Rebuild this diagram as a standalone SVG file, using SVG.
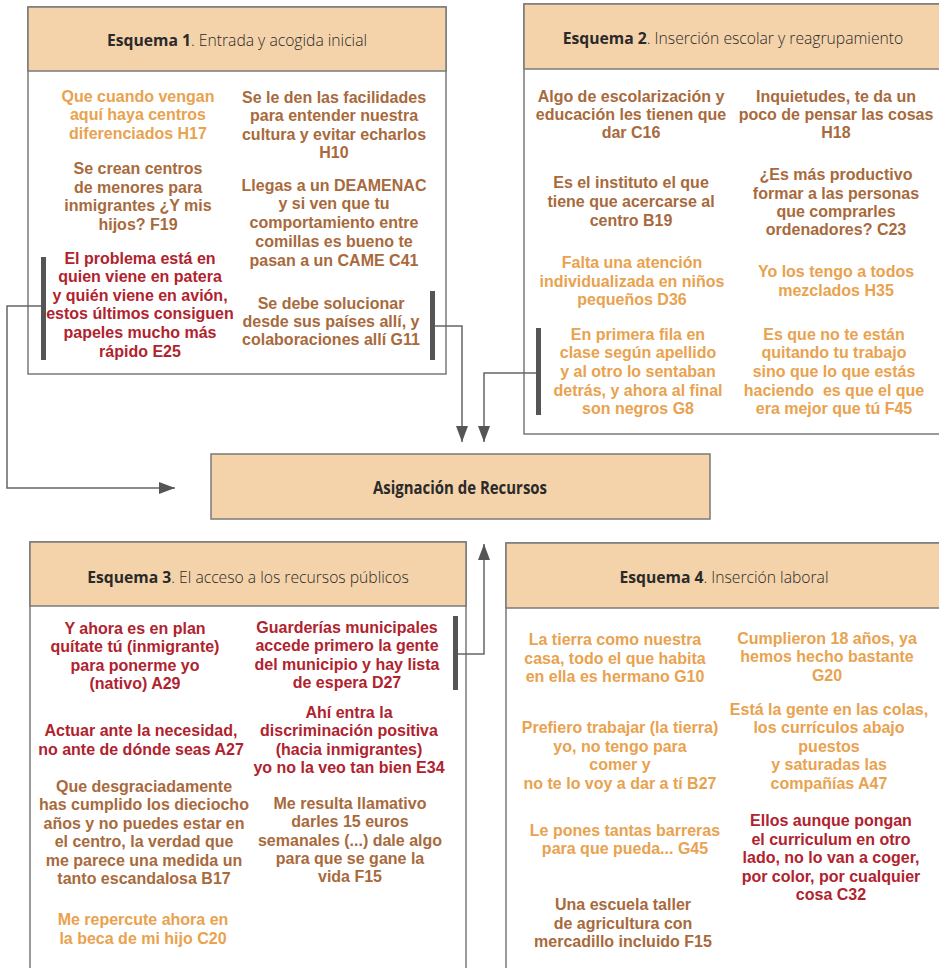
<svg xmlns="http://www.w3.org/2000/svg" width="939" height="968" viewBox="0 0 939 968">
  <style>
    .panel { fill: #ffffff; stroke: #7a7a7a; stroke-width: 1.5; }
    .head { fill: #f5d3aa; stroke: #7a7a7a; stroke-width: 1.5; }
    .ttl { font-family: "Open Sans", "Liberation Sans", sans-serif; font-size: 15.7px; fill: #2a2a2a; text-anchor: middle; font-weight: 300; }
    .ttl .k { font-weight: 700; }
    .q { font-family: "Liberation Sans", Arial, sans-serif; font-size: 16px; font-weight: 700; text-anchor: middle; }
    .o { fill: #e9a24f; }
    .b { fill: #a86a3c; }
    .r { fill: #b0232e; }
    .bar { fill: #555555; }
    .wire { fill: none; stroke: #666666; stroke-width: 1.5; }
    .center { font-family: "Open Sans", "Liberation Sans", sans-serif; font-size: 17px; font-weight: 700; fill: #2a2a2a; text-anchor: middle; }
  </style>
  <defs>
    <marker id="tip" viewBox="0 0 16 12" refX="16" refY="6" markerWidth="16" markerHeight="12" markerUnits="userSpaceOnUse" orient="auto">
      <path d="M0,0 L16,6 L0,12 Z" fill="#555555"/>
    </marker>
  </defs>

  <!-- Esquema 1 -->
  <g id="esquema1">
    <rect class="panel" x="28" y="7" width="418" height="367"/>
    <rect class="head" x="28" y="7" width="418" height="64"/>
    <text class="ttl" x="237" y="46"><tspan class="k">Esquema 1</tspan>. Entrada y acogida inicial</text>
    <text class="q o"><tspan x="138" y="102">Que cuando vengan</tspan><tspan x="138" y="120">aquí haya centros</tspan><tspan x="138" y="139">diferenciados H17</tspan></text>
    <text class="q b"><tspan x="334" y="103">Se le den las facilidades</tspan><tspan x="334" y="121">para entender nuestra</tspan><tspan x="334" y="140">cultura y evitar echarlos</tspan><tspan x="334" y="158">H10</tspan></text>
    <text class="q b"><tspan x="138" y="174">Se crean centros</tspan><tspan x="138" y="193">de menores para</tspan><tspan x="138" y="211">inmigrantes ¿Y mis</tspan><tspan x="138" y="230">hijos? F19</tspan></text>
    <text class="q b"><tspan x="334" y="191">Llegas a un DEAMENAC</tspan><tspan x="334" y="209">y si ven que tu</tspan><tspan x="334" y="228">comportamiento entre</tspan><tspan x="334" y="247">comillas es bueno te</tspan><tspan x="334" y="266">pasan a un CAME C41</tspan></text>
    <text class="q r"><tspan x="140" y="264">El problema está en</tspan><tspan x="140" y="282">quien viene en patera</tspan><tspan x="140" y="301">y quién viene en avión,</tspan><tspan x="140" y="319">estos últimos consiguen</tspan><tspan x="140" y="338">papeles mucho más</tspan><tspan x="140" y="357">rápido E25</tspan></text>
    <text class="q b"><tspan x="331" y="309">Se debe solucionar</tspan><tspan x="331" y="327">desde sus países allí, y</tspan><tspan x="331" y="345">colaboraciones allí G11</tspan></text>
    <rect class="bar" x="41" y="257" width="5" height="103"/>
    <rect class="bar" x="430" y="291" width="5" height="69"/>
  </g>

  <!-- Esquema 2 -->
  <g id="esquema2">
    <rect class="panel" x="524" y="4" width="430" height="430"/>
    <rect class="head" x="524" y="4" width="430" height="65"/>
    <text class="ttl" x="733" y="44"><tspan class="k">Esquema 2</tspan>. Inserción escolar y reagrupamiento</text>
    <text class="q b"><tspan x="631" y="102">Algo de escolarización y</tspan><tspan x="631" y="120">educación les tienen que</tspan><tspan x="631" y="138">dar C16</tspan></text>
    <text class="q b"><tspan x="836" y="102">Inquietudes, te da un</tspan><tspan x="836" y="120">poco de pensar las cosas</tspan><tspan x="836" y="138">H18</tspan></text>
    <text class="q b"><tspan x="631" y="188">Es el instituto el que</tspan><tspan x="631" y="207">tiene que acercarse al</tspan><tspan x="631" y="226">centro B19</tspan></text>
    <text class="q b"><tspan x="836" y="180">¿Es más productivo</tspan><tspan x="836" y="199">formar a las personas</tspan><tspan x="836" y="217">que comprarles</tspan><tspan x="836" y="235">ordenadores? C23</tspan></text>
    <text class="q o"><tspan x="632" y="268">Falta una atención</tspan><tspan x="632" y="287">individualizada en niños</tspan><tspan x="632" y="305">pequeños D36</tspan></text>
    <text class="q o"><tspan x="836" y="277">Yo los tengo a todos</tspan><tspan x="836" y="296">mezclados H35</tspan></text>
    <text class="q o"><tspan x="638" y="340">En primera fila en</tspan><tspan x="638" y="358">clase según apellido</tspan><tspan x="638" y="377">y al otro lo sentaban</tspan><tspan x="638" y="396">detrás, y ahora al final</tspan><tspan x="638" y="414">son negros G8</tspan></text>
    <text class="q o"><tspan x="834" y="340">Es que no te están</tspan><tspan x="834" y="358">quitando tu trabajo</tspan><tspan x="834" y="377">sino que lo que estás</tspan><tspan x="834" y="396" xml:space="preserve">haciendo  es que el que</tspan><tspan x="834" y="414">era mejor que tú F45</tspan></text>
    <rect class="bar" x="536" y="328" width="5" height="87"/>
  </g>

  <!-- Asignación de Recursos -->
  <g id="asignacion">
    <rect class="head" x="211" y="454" width="499" height="65"/>
    <text class="center" x="460" y="494" textLength="174" lengthAdjust="spacingAndGlyphs">Asignación de Recursos</text>
  </g>

  <!-- Esquema 3 -->
  <g id="esquema3">
    <rect class="panel" x="30" y="542" width="436" height="440"/>
    <rect class="head" x="30" y="542" width="436" height="64"/>
    <text class="ttl" x="248" y="583"><tspan class="k">Esquema 3</tspan>. El acceso a los recursos públicos</text>
    <text class="q r"><tspan x="135" y="634">Y ahora es en plan</tspan><tspan x="135" y="652">quítate tú (inmigrante)</tspan><tspan x="135" y="671">para ponerme yo</tspan><tspan x="135" y="689">(nativo) A29</tspan></text>
    <text class="q r"><tspan x="347" y="633">Guarderías municipales</tspan><tspan x="347" y="651">accede primero la gente</tspan><tspan x="347" y="670">del municipio y hay lista</tspan><tspan x="347" y="688">de espera D27</tspan></text>
    <text class="q r"><tspan x="141" y="736">Actuar ante la necesidad,</tspan><tspan x="141" y="755">no ante de dónde seas A27</tspan></text>
    <text class="q r"><tspan x="349" y="718">Ahí entra la</tspan><tspan x="349" y="736">discriminación positiva</tspan><tspan x="349" y="755">(hacia inmigrantes)</tspan><tspan x="349" y="773">yo no la veo tan bien E34</tspan></text>
    <text class="q b"><tspan x="144" y="792">Que desgraciadamente</tspan><tspan x="144" y="810">has cumplido los dieciocho</tspan><tspan x="144" y="829">años y no puedes estar en</tspan><tspan x="144" y="847">el centro, la verdad que</tspan><tspan x="144" y="866">me parece una medida un</tspan><tspan x="144" y="884">tanto escandalosa B17</tspan></text>
    <text class="q b"><tspan x="350" y="809">Me resulta llamativo</tspan><tspan x="350" y="827">darles 15 euros</tspan><tspan x="350" y="846">semanales (...) dale algo</tspan><tspan x="350" y="864">para que se gane la</tspan><tspan x="350" y="882">vida F15</tspan></text>
    <text class="q o"><tspan x="143" y="925">Me repercute ahora en</tspan><tspan x="143" y="944">la beca de mi hijo C20</tspan></text>
    <rect class="bar" x="453" y="616" width="5" height="74"/>
  </g>

  <!-- Esquema 4 -->
  <g id="esquema4">
    <rect class="panel" x="506" y="543" width="450" height="440"/>
    <rect class="head" x="506" y="543" width="450" height="65"/>
    <text class="ttl" x="724" y="583"><tspan class="k">Esquema 4</tspan>. Inserción laboral</text>
    <text class="q o"><tspan x="615" y="645">La tierra como nuestra</tspan><tspan x="615" y="664">casa, todo el que habita</tspan><tspan x="615" y="682">en ella es hermano G10</tspan></text>
    <text class="q o"><tspan x="827" y="644">Cumplieron 18 años, ya</tspan><tspan x="827" y="662">hemos hecho bastante</tspan><tspan x="827" y="681">G20</tspan></text>
    <text class="q o"><tspan x="620" y="733">Prefiero trabajar (la tierra)</tspan><tspan x="620" y="752">yo, no tengo para</tspan><tspan x="620" y="770">comer y</tspan><tspan x="620" y="789">no te lo voy a dar a tí B27</tspan></text>
    <text class="q o"><tspan x="829" y="715">Está la gente en las colas,</tspan><tspan x="829" y="733">los currículos abajo</tspan><tspan x="829" y="752">puestos</tspan><tspan x="829" y="770">y saturadas las</tspan><tspan x="829" y="789">compañías A47</tspan></text>
    <text class="q o"><tspan x="625" y="836">Le pones tantas barreras</tspan><tspan x="625" y="854">para que pueda... G45</tspan></text>
    <text class="q r"><tspan x="831" y="826">Ellos aunque pongan</tspan><tspan x="831" y="845">el curriculum en otro</tspan><tspan x="831" y="863">lado, no lo van a coger,</tspan><tspan x="831" y="882">por color, por cualquier</tspan><tspan x="831" y="900">cosa C32</tspan></text>
    <text class="q b"><tspan x="623" y="910">Una escuela taller</tspan><tspan x="623" y="929">de agricultura con</tspan><tspan x="623" y="947">mercadillo incluido F15</tspan></text>
  </g>

  <!-- Connectors -->
  <g id="connectors">
    <polyline class="wire" points="41,306 7,306 7,488 175,488" marker-end="url(#tip)"/>
    <polyline class="wire" points="435,326 462,326 462,442" marker-end="url(#tip)"/>
    <polyline class="wire" points="536,373 484,373 484,442" marker-end="url(#tip)"/>
    <polyline class="wire" points="458,654 484,654 484,544" marker-end="url(#tip)"/>
  </g>
</svg>
